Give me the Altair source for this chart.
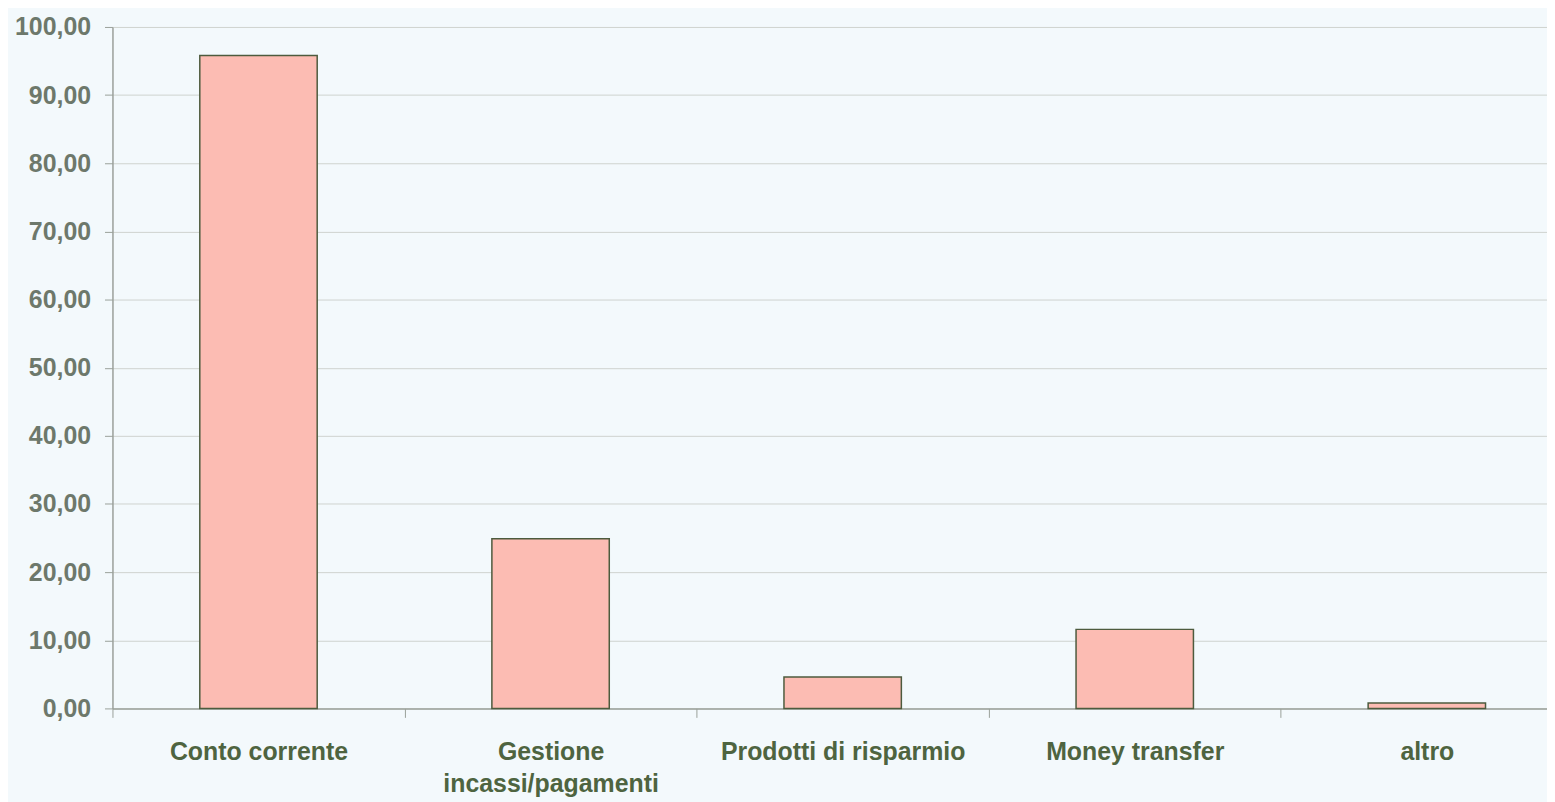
import altair as alt
import pandas as pd

categories = ["Conto corrente", "Gestione incassi/pagamenti", "Prodotti di risparmio",
              "Money transfer", "altro"]
values = [95.8, 24.9, 4.6, 11.6, 0.8]

df = pd.DataFrame({"categoria": categories, "valore": values})

bars = alt.Chart(df).mark_bar(
    size=118, color="#fcbcb3", stroke="#4d5b3e", strokeWidth=1.5
).encode(
    x=alt.X("categoria:N", sort=categories, title=None,
            scale=alt.Scale(range=[0, 1468], paddingInner=0, paddingOuter=0),
            axis=alt.Axis(
                labelAngle=0, tickBand="extent", tickSize=9, tickColor="#9aa09a",
                domainColor="#9aa09a", domainWidth=1.5, grid=False,
                labelFont="Liberation Sans", labelFontSize=25, labelFontWeight="bold",
                labelColor="#4e6440", labelPadding=22, labelLineHeight=33,
                labelLimit=400,
                labelExpr="isValid(datum.value) ? split(replace(datum.value, 'Gestione ', 'Gestione|'), '|') : ''")),
    y=alt.Y("valore:Q", title=None,
            scale=alt.Scale(domain=[0, 100], nice=False),
            axis=alt.Axis(
                values=list(range(0, 101, 10)), tickSize=8, tickColor="#9aa09a",
                domainColor="#9aa09a", domainWidth=1.5,
                gridColor="#cfd3cf", gridWidth=1,
                labelFont="Liberation Sans", labelFontSize=25, labelFontWeight="bold",
                labelColor="#6d786b", labelPadding=14,
                labelExpr="replace(format(datum.value, '.2f'), '.', ',')")),
)

chart = bars.properties(
    width=1442, height=685,
    autosize=alt.AutoSizeParams(type="none"),
    padding={"left": 105, "top": 17, "right": 0, "bottom": 92},
    background="#f3f9fc",
).configure_view(stroke=None)

chart.save("out.html", embed_options={"renderer": "svg", "actions": False})
